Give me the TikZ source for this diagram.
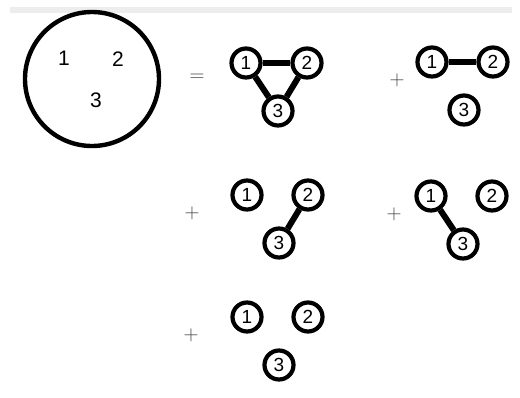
\documentclass[tikz,border=0pt]{standalone}
\usepackage{fontspec}
\setsansfont{Liberation Sans}
\usetikzlibrary{positioning}

\begin{document}
\begin{tikzpicture}[x=1pt,y=-1pt,
  vtx/.style={draw,circle,fill=white,line width=4.2pt,minimum size=29pt,inner sep=0pt,font=\sffamily\fontsize{19}{19}\selectfont},
  bond/.style={line width=6pt},
  op/.style={text=black!75,font=\fontsize{22}{22}\selectfont},
  lbl/.style={font=\sffamily\fontsize{21}{21}\selectfont}]
\useasboundingbox (0,0) rectangle (520,397);
\fill[black!7] (10,7) rectangle (512,13);
% the whole cluster
\node[draw,circle,line width=4.4pt,minimum size=134pt,inner sep=0pt] (whole) at (92,79) {};
\node[lbl] (w1) at (64,58) {1};
\node[lbl] (w2) at (118,59) {2};
\node[lbl] (w3) at (96,100) {3};
\node[op] (eq) at (197,78) {$=$};
\node[op] (p1) at (397,80) {$+$};
\node[op] (p2) at (192,213) {$+$};
\node[op] (p3) at (394,214) {$+$};
\node[op] (p4) at (191,335) {$+$};
% the five graphs
\foreach \g/\x/\y in {a/246/63,b/432/62,c/247/195,d/431/196,e/247/317} {
  \node[vtx] (\g1) at (\x,\y) {1};
  \node[vtx] (\g2) at (\x+61,\y) {2};
  \node[vtx] (\g3) at (\x+32,\y+48) {3};
}
\draw[bond] (a1) -- (a2); \draw[bond] (a1) -- (a3); \draw[bond] (a2) -- (a3);
\draw[bond] (b1) -- (b2);
\draw[bond] (c2) -- (c3);
\draw[bond] (d1) -- (d3);
\end{tikzpicture}
\end{document}
